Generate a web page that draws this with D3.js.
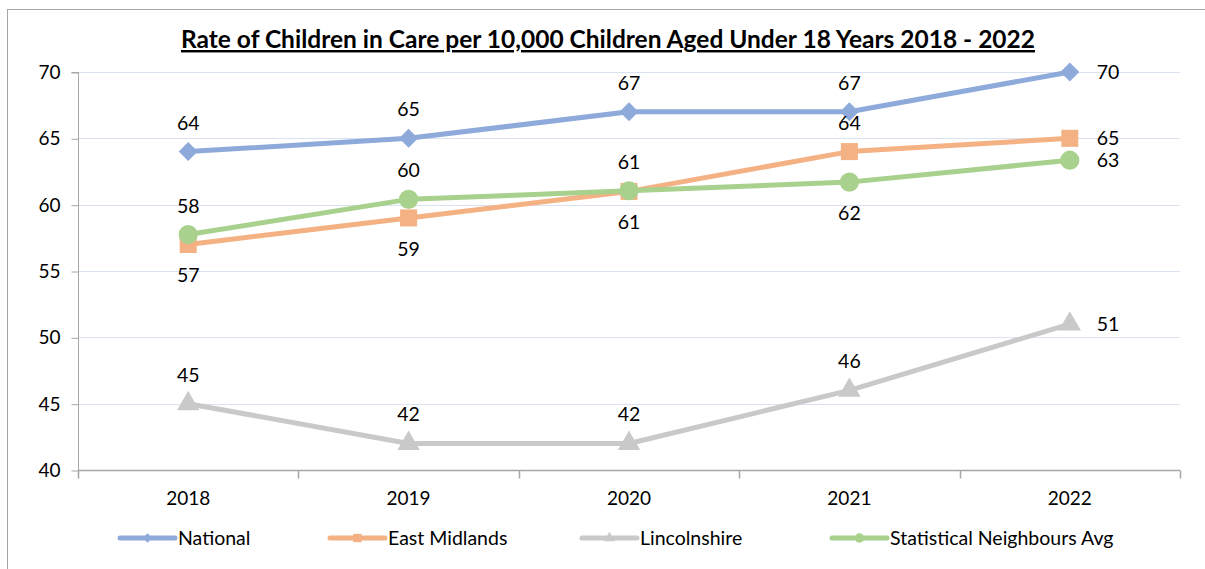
<!doctype html>
<html lang="en">
<head>
<meta charset="utf-8">
<title>Children in Care</title>
<script src="https://d3js.org/d3.v7.min.js"></script>
<style>
  body { margin: 0; background: #fff; }
  svg text { font-family: Lato, "Noto Sans", sans-serif; fill: #000; }
</style>
</head>
<body>
<div id="chart"></div>
<script>
// chart values
var years = ["2018", "2019", "2020", "2021", "2022"];
var national = [64, 65, 67, 67, 70];
var eastMidlands = [57, 59, 61, 64, 65];
var lincolnshire = [45, 42, 42, 46, 51];
var statNeighbours = [57.75, 60.4, 61.05, 61.7, 63.35];
var yTicks = [40, 45, 50, 55, 60, 65, 70];

// label placement per point: a = above, b = below, r = right
var series = [
  { name: "National", values: national, color: "#8eaadb", shape: "diamond", pos: ["a","a","a","a","r"] },
  { name: "East Midlands", values: eastMidlands, color: "#f4b183", shape: "square", pos: ["b","b","b","a","r"] },
  { name: "Lincolnshire", values: lincolnshire, color: "#c9c9c9", shape: "triangle", pos: ["a","a","a","a","r"] },
  { name: "Statistical Neighbours Avg", values: statNeighbours, color: "#a9d18e", shape: "circle", pos: ["a","a","a","b","r"] }
];

// marker drawing, square diamond like excel
function marker(sel, shape, s) {
  if (shape === "diamond") {
    sel.attr("d", d3.symbol().type(d3.symbolSquare).size(s * 0.62))
      .attr("transform", function() { return d3.select(this).attr("transform") + " rotate(45)"; });
  } else if (shape === "square") {
    sel.attr("d", d3.symbol().type(d3.symbolSquare).size(s));
  } else if (shape === "triangle") {
    sel.attr("d", d3.symbol().type(d3.symbolTriangle).size(s * 0.75));
  } else {
    sel.attr("d", d3.symbol().type(d3.symbolCircle).size(s));
  }
}

var W = 1205, H = 569;
var margin = {top: 72, right: 25, bottom: 99, left: 78};

var svg = d3.select("#chart").append("svg")
  .attr("width", W).attr("height", H);

// outer frame
svg.append("rect")
  .attr("x", 7.5).attr("y", 9.5)
  .attr("width", W + 10).attr("height", H + 10)
  .attr("fill", "none").attr("stroke", "#a6a6a6").attr("stroke-width", 1);

svg.append("text")
  .attr("x", 608).attr("y", 48)
  .attr("text-anchor", "middle")
  .style("font-size", "24.5px").style("font-weight", "bold")
  .style("text-decoration", "underline")
  .text("Rate of Children in Care per 10,000 Children Aged Under 18 Years 2018 - 2022");

var x = d3.scaleBand().domain(years).range([margin.left, W - margin.right]);
var y = d3.scaleLinear().domain([40, 70]).range([H - margin.bottom, margin.top]);
var cx = function(d) { return x(d) + x.bandwidth() / 2; };

// gridlines
svg.append("g").selectAll("line")
  .data(yTicks.filter(function(t) { return t > 40; }))
  .join("line")
  .attr("x1", margin.left).attr("x2", W - margin.right)
  .attr("y1", function(d) { return Math.round(y(d)) + 0.5; })
  .attr("y2", function(d) { return Math.round(y(d)) + 0.5; })
  .attr("stroke", "#d9e1f2").attr("stroke-width", 1);

// y axis
var yAxis = svg.append("g")
  .attr("transform", "translate(" + (margin.left + 0.5) + ",0.5)")
  .call(d3.axisLeft(y).tickValues(yTicks).tickSize(7).tickPadding(11));
yAxis.selectAll("text").style("font-size", "19px");
yAxis.selectAll("line, path").attr("stroke", "#a6a6a6");
yAxis.select(".domain").attr("d", "M-7," + y(70) + "H0V" + y(40));

// x axis with boundary ticks
var xg = svg.append("g").attr("transform", "translate(0," + (Math.round(y(40)) + 0.5) + ")");
xg.append("line").attr("x1", margin.left).attr("x2", W - margin.right)
  .attr("stroke", "#a6a6a6").attr("stroke-width", 1.5);
var bounds = years.map(function(d) { return x(d); }).concat([W - margin.right]);
xg.selectAll(".tk").data(bounds).join("line")
  .attr("x1", function(d) { return Math.round(d) + 0.5; })
  .attr("x2", function(d) { return Math.round(d) + 0.5; })
  .attr("y1", 0).attr("y2", 8)
  .attr("stroke", "#a6a6a6").attr("stroke-width", 1.5);
xg.selectAll(".lbl").data(years).join("text")
  .attr("x", cx).attr("y", 34)
  .attr("text-anchor", "middle")
  .style("font-size", "19px")
  .text(function(d) { return d; });

var line = d3.line()
  .x(function(d, i) { return cx(years[i]); })
  .y(function(d) { return y(d); });

series.forEach(function(s) {
  var g = svg.append("g");
  g.append("path")
    .datum(s.values)
    .attr("fill", "none")
    .attr("stroke", s.color)
    .attr("stroke-width", 5)
    .attr("stroke-linejoin", "round")
    .attr("d", line);
  g.selectAll("path.m").data(s.values).join("path")
    .attr("class", "m")
    .attr("transform", function(d, i) { return "translate(" + cx(years[i]) + "," + y(d) + ")"; })
    .attr("fill", s.color)
    .call(marker, s.shape, 290);
  g.selectAll("text").data(s.values).join("text")
    .attr("x", function(d, i) {
      var p = s.pos[i];
      return cx(years[i]) + (p === "r" ? 27 : 0);
    })
    .attr("y", function(d, i) {
      var p = s.pos[i];
      if (p === "a") return y(d) - 22;
      if (p === "b") return y(d) + 38;
      return y(d) + 7;
    })
    .attr("text-anchor", function(d, i) { return s.pos[i] === "r" ? "start" : "middle"; })
    .style("font-size", "19.5px")
    .text(function(d) { return Math.round(d); });
});

// legend
var legX = [120, 330, 582, 832];
var leg = svg.append("g").attr("transform", "translate(0,538)");
series.forEach(function(s, i) {
  var lg = leg.append("g").attr("transform", "translate(" + legX[i] + ",0)");
  lg.append("line").attr("x1", 0).attr("x2", 55)
    .attr("stroke", s.color).attr("stroke-width", 5).attr("stroke-linecap", "round");
  lg.append("path")
    .attr("transform", "translate(27.5,0)")
    .attr("fill", s.color)
    .call(marker, s.shape, 70);
  lg.append("text").attr("x", 58).attr("y", 7)
    .style("font-size", "19.5px")
    .text(s.name);
});
</script>
</body>
</html>
